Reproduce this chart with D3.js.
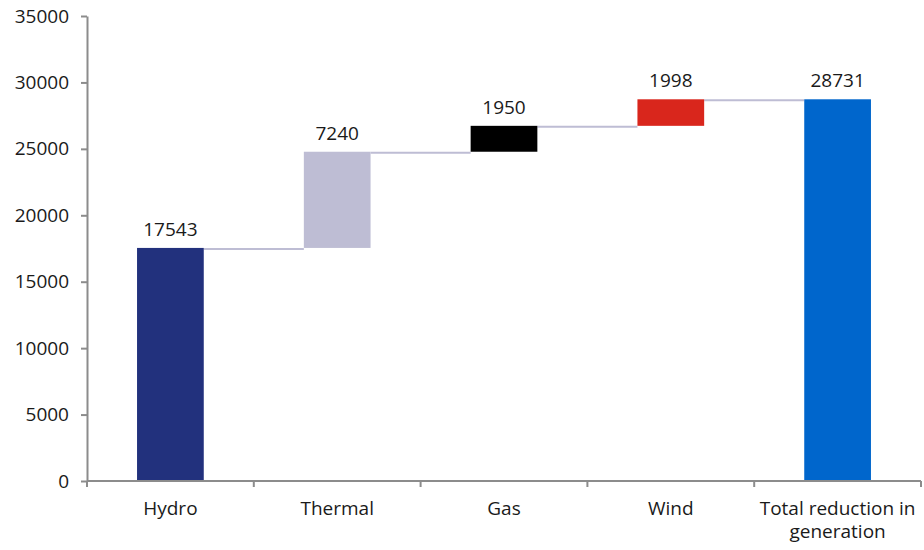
<!DOCTYPE html>
<html>
<head>
<meta charset="utf-8">
<script src="https://cdn.jsdelivr.net/npm/d3@7"></script>
<style>
  html, body { margin: 0; padding: 0; background: #fff; }
  svg { display: block; font-family: "Open Sans", "Noto Sans", sans-serif; }
</style>
</head>
<body>
<svg id="chart" width="924" height="550"></svg>
<script>
// Reduction in generation by source, shown as a waterfall
const categories = ["Hydro", "Thermal", "Gas", "Wind", "Total reduction in generation"];
const values = [17543, 7240, 1950, 1998, 28731];
const isTotal = [false, false, false, false, true];
const barColors = ["#22317d", "#bebdd4", "#000000", "#d9261c", "#0066cc"];
const yTicks = [0, 5000, 10000, 15000, 20000, 25000, 30000, 35000];

const svg = d3.select("#chart");
const margin = { left: 87, right: 3, top: 16, bottom: 69 };
const W = 924, H = 550;
const fontSize = 19;
const textColor = "#1a1a1a";

const x = d3.scaleBand().domain(categories).range([margin.left, W - margin.right]).padding(0);
const y = d3.scaleLinear().domain([0, 35000]).range([H - margin.bottom, margin.top]);

// running start/end for each step
let run = 0;
const steps = categories.map((c, i) => {
  let start, end;
  if (isTotal[i]) { start = 0; end = values[i]; }
  else { start = run; end = run + values[i]; run = end; }
  return { cat: c, value: values[i], start, end, color: barColors[i] };
});

const barW = x.bandwidth() * 0.4;
const barX = d => x(d.cat) + (x.bandwidth() - barW) / 2;

// connectors between consecutive bars
const conn = svg.append("g");
steps.slice(0, -1).forEach((d, i) => {
  const next = steps[i + 1];
  const level = d.end;
  conn.append("line")
    .attr("x1", barX(d) + barW).attr("x2", barX(next))
    .attr("y1", y(level) + 1).attr("y2", y(level) + 1)
    .attr("stroke", "#bebdd4").attr("stroke-width", 2);
});

// bars
svg.append("g").selectAll("rect").data(steps).join("rect")
  .attr("x", barX)
  .attr("width", barW)
  .attr("y", d => y(d.end))
  .attr("height", d => y(d.start) - y(d.end))
  .attr("fill", d => d.color);

// value labels
svg.append("g").selectAll("text").data(steps).join("text")
  .attr("x", d => x(d.cat) + x.bandwidth() / 2)
  .attr("y", d => y(d.end) - 12)
  .attr("text-anchor", "middle")
  .attr("font-size", fontSize)
  .attr("fill", textColor)
  .text(d => d.value);

// y axis
const yAxis = svg.append("g")
  .attr("transform", `translate(${margin.left},0)`)
  .call(d3.axisLeft(y).tickValues(yTicks).tickSize(6).tickSizeOuter(0).tickPadding(12).tickFormat(d3.format("d")));
yAxis.select(".domain").attr("stroke", "#8c8c8c").attr("stroke-width", 2);
yAxis.selectAll(".tick line").attr("stroke", "#8c8c8c").attr("stroke-width", 2);
yAxis.selectAll(".tick text").attr("font-size", fontSize).attr("fill", textColor).attr("font-family", "Open Sans, sans-serif");

// x axis with ticks at band boundaries
const xg = svg.append("g").attr("transform", `translate(0,${y(0)})`);
xg.append("line")
  .attr("x1", margin.left).attr("x2", W - margin.right)
  .attr("stroke", "#8c8c8c").attr("stroke-width", 2);
const bounds = categories.map(c => x(c)).concat([x(categories[categories.length - 1]) + x.bandwidth()]);
xg.selectAll("line.tk").data(bounds).join("line").attr("class", "tk")
  .attr("x1", d => d).attr("x2", d => d).attr("y1", 0).attr("y2", 6)
  .attr("stroke", "#8c8c8c").attr("stroke-width", 2);

// category labels, wrapped to the band width
xg.selectAll("text.cat").data(categories).join("text").attr("class", "cat")
  .attr("text-anchor", "middle")
  .attr("font-size", fontSize)
  .attr("fill", textColor)
  .each(function (c) {
    const t = d3.select(this);
    const cx = x(c) + x.bandwidth() / 2;
    const words = c.split(" ");
    const lines = [];
    let line = [];
    words.forEach(w => {
      line.push(w);
      t.text(line.join(" "));
      if (this.getComputedTextLength() > x.bandwidth() + 4 && line.length > 1) {
        line.pop();
        lines.push(line.join(" "));
        line = [w];
      }
    });
    lines.push(line.join(" "));
    t.text(null);
    lines.forEach((l, i) => {
      t.append("tspan").attr("x", cx).attr("y", 34 + i * 23).text(l);
    });
  });
</script>
</body>
</html>
